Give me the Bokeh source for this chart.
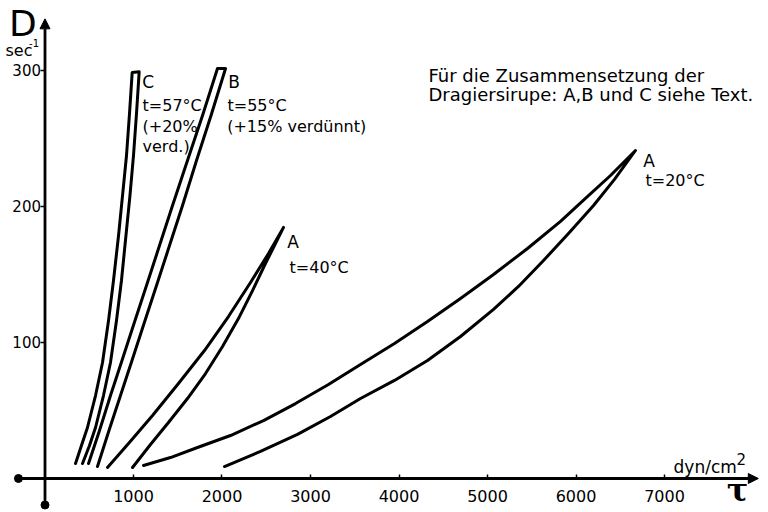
from bokeh.plotting import figure
from bokeh.models import Range1d, FixedTicker, Arrow, NormalHead, Label
from bokeh.embed import file_html
from bokeh.resources import INLINE

# ---------------- data (shear stress tau in dyn/cm^2, shear rate D in 1/s) -------------
tau_ticks = [1000, 2000, 3000, 4000, 5000, 6000, 7000]
d_ticks = [100, 200, 300]

# Loop C, t = 57 degC (+20 % verd.)
c_left_tau = [345, 412, 480, 571, 650, 718, 774, 831, 876, 921, 955, 985]
c_left_d = [11, 24.3, 37.5, 61, 85.3, 116.2, 145.6, 178.7, 208, 237.5, 268.4, 298.5]
c_right_tau = [424, 503, 571, 661, 740, 808, 864, 915, 960, 1000, 1034, 1064]
c_right_d = [11, 24.3, 37.5, 61, 85.3, 116.2, 145.6, 178.7, 208, 237.5, 268.4, 299]

# Loop B, t = 55 degC (+15 % verduennt)
b_left_tau = [492, 616, 740, 870, 1006, 1147, 1294, 1441, 1610, 1780, 1949]
b_left_d = [11, 35.3, 61, 86.8, 114, 141.9, 171.3, 200.7, 233.8, 266.9, 301.5]
b_right_tau = [593, 723, 853, 983, 1119, 1260, 1407, 1554, 1712, 1876, 2040]
b_right_d = [8.8, 35.3, 61, 86.8, 114, 141.9, 171.3, 200.7, 233.8, 266.9, 301.5]

# Loop A, t = 40 degC
a40_left_tau = [706, 944, 1215, 1508, 1802, 2073, 2322, 2525, 2695]
a40_left_d = [8.1, 25.7, 46.3, 69.9, 94.1, 119.1, 144.1, 165.4, 184.6]
a40_right_tau = [989, 1192, 1395, 1610, 1814, 2006, 2186, 2345, 2480, 2593, 2695]
a40_right_d = [8.1, 25, 41.2, 58.8, 77.2, 97.1, 117.6, 138.2, 156.6, 171.3, 184.6]

# Loop A, t = 20 degC
a20_left_tau = [1113, 1418, 1723, 2096, 2469, 2831, 3203, 3565, 3949, 4322,
                4695, 5068, 5452, 5825, 6107, 6390, 6672]
a20_left_d = [9.6, 15.4, 22.8, 31.6, 42.6, 55.1, 69.1, 83.8, 99.3, 115.4,
              132.4, 150, 169.1, 189, 205.9, 222.8, 241.2]
a20_right_tau = [2028, 2435, 2853, 3226, 3565, 3949, 4322, 4695, 5068, 5350,
                 5633, 5915, 6198, 6435, 6672]
a20_right_d = [8.8, 19.9, 32.4, 45.6, 58.8, 72.1, 86.8, 104.4, 124.3, 141.2,
               160.3, 180.1, 200.7, 219.9, 241.2]

loops = [
    (c_left_tau, c_left_d, c_right_tau, c_right_d),
    (b_left_tau, b_left_d, b_right_tau, b_right_d),
    (a40_left_tau, a40_left_d, a40_right_tau, a40_right_d),
    (a20_left_tau, a20_left_d, a20_right_tau, a20_right_d),
]

# ---------------- figure ----------------
X_RANGE = (-502.8, 8129.9)
Y_RANGE = (-23.53, 351.47)
AX_X = (-300, 8060)
AX_Y = (-19.5, 338)

FONT = "DejaVu Sans"

p = figure(width=764, height=510, output_backend="svg", toolbar_location=None,
           x_range=Range1d(*X_RANGE), y_range=Range1d(*Y_RANGE),
           min_border=0, outline_line_color=None, background_fill_color="white",
           border_fill_color="white")
p.grid.visible = False

xa = p.xaxis[0]
xa.fixed_location = 0
xa.ticker = FixedTicker(ticks=tau_ticks)
xa.axis_line_color = None
xa.major_tick_in = 4
xa.major_tick_out = 0
xa.major_tick_line_width = 1.5
xa.minor_tick_line_color = None
xa.major_label_standoff = 12
xa.major_label_text_font = FONT
xa.major_label_text_font_size = "16px"
xa.major_label_text_color = "black"

ya = p.yaxis[0]
ya.fixed_location = 0
ya.ticker = FixedTicker(ticks=d_ticks)
ya.axis_line_color = None
ya.major_tick_in = 0
ya.major_tick_out = 4
ya.major_tick_line_width = 1.5
ya.minor_tick_line_color = None
ya.major_label_standoff = 0
ya.major_label_text_font = FONT
ya.major_label_text_font_size = "15px"
ya.major_label_text_color = "black"

# axis lines with arrow heads and end dots
p.add_layout(Arrow(end=NormalHead(size=10, fill_color="black", line_color="black", line_width=1),
                   x_start=AX_X[0], y_start=0, x_end=AX_X[1], y_end=0,
                   line_width=2.8, line_color="black"))
p.add_layout(Arrow(end=NormalHead(size=10, fill_color="black", line_color="black", line_width=1),
                   x_start=0, y_start=AX_Y[0], x_end=0, y_end=AX_Y[1],
                   line_width=2.8, line_color="black"))
p.scatter([AX_X[0], 0], [0, AX_Y[0]], size=8, color="black")

# hysteresis loops
for lt, ld, rt, rd in loops:
    xs = list(lt) + list(reversed(rt))
    ys = list(ld) + list(reversed(rd))
    p.line(xs, ys, line_width=3, line_color="black", line_join="round", line_cap="round")

def lab(x, y, text, size="16px", font=FONT, align="left", style="normal", baseline="middle"):
    p.add_layout(Label(x=x, y=y, text=text, text_font=font, text_font_size=size,
                       text_align=align, text_baseline=baseline, text_color="black",
                       text_font_style=style))

# axis titles
lab(-249, 334.2, "D", size="36px", align="center")
lab(-446, 314.7, "sec", size="16px")
lab(-180, 320.5, "-1", size="10px")
lab(7102, 8.8, "dyn/cm", size="17px")
lab(7813, 14.7, "2", size="15px")
lab(7825, -8.3, "\u03c4", size="32px", font="DejaVu Serif", align="center", style="bold")

# curve annotations
lab(1098, 291.5, "C", size="17px")
lab(1102, 274.3, "t=57°C")
lab(1102, 258.8, "(+20%")
lab(1102, 244.1, "verd.)")
lab(2070, 291.9, "B", size="17px")
lab(2062, 274.3, "t=55°C")
lab(2059, 258.8, "(+15% verdünnt)")
lab(2737, 173.9, "A", size="17px")
lab(2763, 155.5, "t=40°C")
lab(6759, 233.8, "A", size="17px")
lab(6785, 218.8, "t=20°C")

# note
lab(4333, 296.3, "Für die Zusammensetzung der", size="18px")
lab(4333, 282.4, "Dragiersirupe: A,B und C  siehe Text.", size="18px")

open("out.html", "w").write(file_html(p, INLINE))
